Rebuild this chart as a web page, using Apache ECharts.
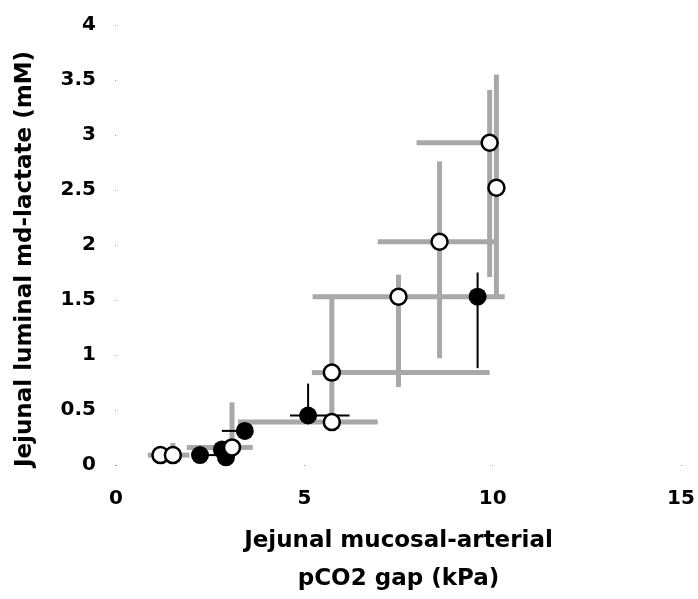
<!DOCTYPE html>
<html>
<head>
<meta charset="utf-8">
<title>Jejunal lactate vs pCO2 gap</title>
<script src="https://cdn.jsdelivr.net/npm/echarts@6/dist/echarts.min.js"></script>
<style>
  html, body { margin: 0; padding: 0; background: #fff; }
  #chart { width: 698px; height: 599px; }
</style>
</head>
<body>
<div id="chart"></div>
<script>
// open circles, grey error bars (null = no bar on that side)
var openX   = [1.18, 1.51, 3.08, 5.73, 5.73, 7.5, 8.59, 9.92, 10.1];
var openY   = [0.09, 0.09, 0.16, 0.39, 0.84, 1.53, 2.03, 2.93, 2.52];
var openXLo = [0.85, null, 1.88, 3.24, 5.2, 5.22, 6.95, 7.98, null];
var openXHi = [null, 1.95, 3.63, 6.95, 9.92, 10.32, 10.05, null, null];
var openYLo = [null, null, null, null, 0.39, 0.71, 0.97, 1.71, 1.53];
var openYHi = [null, 0.2, 0.57, null, 1.53, 1.73, 2.76, 3.41, 3.55];

// filled circles, black error bars
var fillX   = [2.23, 2.81, 2.92, 3.42, 5.1, 9.6];
var fillY   = [0.09, 0.14, 0.07, 0.31, 0.45, 1.53];
var fillXLo = [null, null, null, 2.81, 4.62, null];
var fillXHi = [2.8, null, null, null, 6.2, null];
var fillYLo = [null, null, null, 0.23, null, 0.88];
var fillYHi = [null, null, null, null, 0.74, 1.75];

// axis ranges [min, max, step]
var xRange = [0, 15, 5];
var yRange = [0, 4, 0.5];

var FONT = 'DejaVu Sans';

function pairs(xs, ys) {
    return xs.map(function (x, i) { return [x, ys[i]]; });
}

// draws the bars of one point through the grid's own scale
function errorBars(xs, ys, xlo, xhi, ylo, yhi, color, width) {
    return function (params, api) {
        var i = params.dataIndex;
        var c = api.coord([xs[i], ys[i]]);
        var kids = [];
        function seg(p) {
            kids.push({
                type: 'line',
                shape: { x1: p[0], y1: p[1], x2: c[0], y2: c[1] },
                style: { stroke: color, lineWidth: width, lineCap: 'butt' }
            });
        }
        if (xlo[i] != null) seg(api.coord([xlo[i], ys[i]]));
        if (xhi[i] != null) seg(api.coord([xhi[i], ys[i]]));
        if (ylo[i] != null) seg(api.coord([xs[i], ylo[i]]));
        if (yhi[i] != null) seg(api.coord([xs[i], yhi[i]]));
        return { type: 'group', children: kids };
    };
}

var chart = echarts.init(document.getElementById('chart'));

var labelStyle = { color: '#000', fontFamily: FONT, fontWeight: 'bold', fontSize: 20 };
var titleStyle = { color: '#000', fontFamily: FONT, fontWeight: 'bold', fontSize: 23 };

var option = {
    backgroundColor: '#fff',
    animation: false,
    grid: { left: 116, right: 17, top: 25, bottom: 134, containLabel: false, outerBoundsMode: 'none' },
    xAxis: {
        type: 'value',
        min: xRange[0], max: xRange[1], interval: xRange[2],
        axisLine: { show: false },
        axisTick: { show: true, length: 1, lineStyle: { color: '#999' } },
        splitLine: { show: false },
        axisLabel: Object.assign({ margin: 24 }, labelStyle),
        name: 'Jejunal mucosal-arterial\npCO2 gap (kPa)',
        nameLocation: 'middle',
        nameGap: 57,
        nameTextStyle: Object.assign({ lineHeight: 38 }, titleStyle)
    },
    yAxis: {
        type: 'value',
        min: yRange[0], max: yRange[1], interval: yRange[2],
        axisLine: { show: false },
        axisTick: { show: true, length: 1, lineStyle: { color: '#999' } },
        splitLine: { show: false },
        axisLabel: Object.assign({ margin: 20 }, labelStyle),
        name: 'Jejunal luminal md-lactate (mM)',
        nameLocation: 'middle',
        nameGap: 79,
        nameTextStyle: Object.assign({ padding: [0, 28, 0, 0] }, titleStyle)
    },
    series: [
        {
            type: 'custom',
            name: 'grey bars',
            data: pairs(openX, openY),
            renderItem: errorBars(openX, openY, openXLo, openXHi, openYLo, openYHi, '#a8a8a8', 5),
            z: 1
        },
        {
            type: 'custom',
            name: 'black bars',
            data: pairs(fillX, fillY),
            renderItem: errorBars(fillX, fillY, fillXLo, fillXHi, fillYLo, fillYHi, '#000', 2),
            z: 2
        },
        {
            type: 'scatter',
            name: 'filled',
            data: pairs(fillX, fillY),
            symbol: 'circle',
            symbolSize: 18,
            itemStyle: { color: '#000', opacity: 1 },
            z: 3
        },
        {
            type: 'scatter',
            name: 'open',
            data: pairs(openX, openY),
            symbol: 'circle',
            symbolSize: 16,
            itemStyle: { color: '#fff', borderColor: '#000', borderWidth: 2.5, opacity: 1 },
            z: 4
        }
    ]
};

chart.setOption(option);
</script>
</body>
</html>
